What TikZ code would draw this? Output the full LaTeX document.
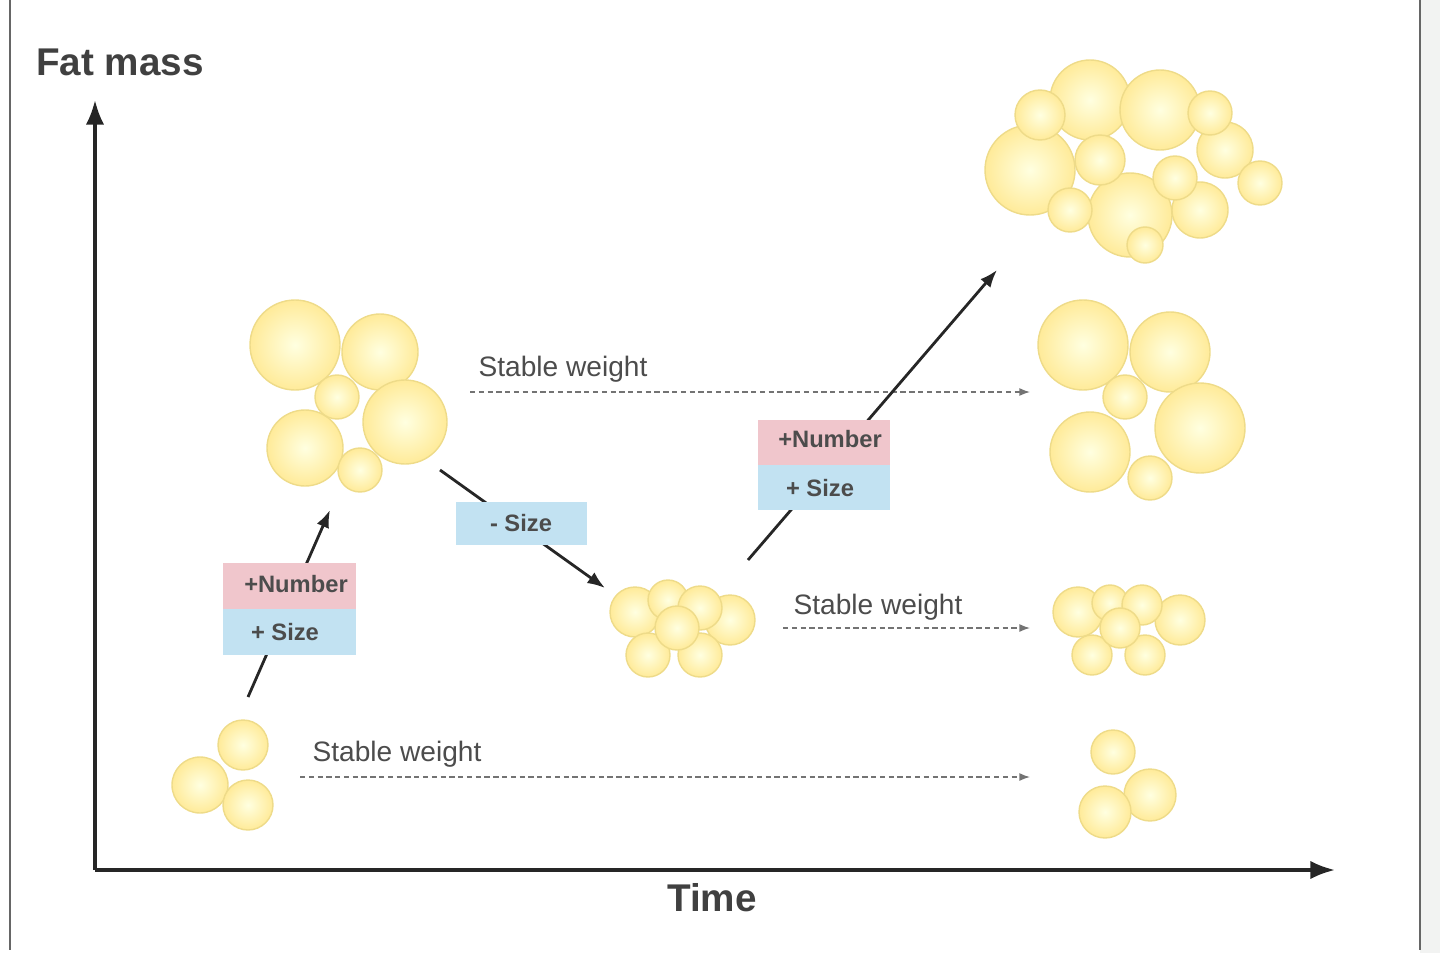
\documentclass[tikz,border=0pt]{standalone}
\usepackage{fontspec}
\setmainfont{Liberation Sans}
\usetikzlibrary{arrows.meta}
\begin{document}
\begin{tikzpicture}[x=0.02cm,y=-0.02cm,
  lbl/.style={font=\fontsize{16}{18}\selectfont, text=black!70},
  axl/.style={font=\bfseries\fontsize{22}{24}\selectfont, text=black!75},
  dsh/.style={densely dashed, draw=black!55, line width=0.8pt, -{Latex[length=6pt]}},
  sol/.style={draw=black!85, line width=1.6pt, -{Latex[length=10pt]}},
  tagtxt/.style={font=\bfseries\fontsize{13.5}{16}\selectfont, text=black!70}]
\useasboundingbox (0,0) rectangle (1440,953);
\fill[green!5!gray!10] (1420,0) rectangle (1440,953);
\draw[black!60, line width=1pt] (10,-2) -- (10,950) ;
\draw[black!60, line width=1pt] (1420,-2) -- (1420,950);
\newcommand{\cell}[3]{\shade[inner color=white!70!yellow!40, outer color=yellow!60!orange!40] (#1-0.2*#3,#2-0.2*#3) circle (0.01) (#1,#2) circle (#3);
  \draw[yellow!50!brown!55, line width=0.8pt] (#1,#2) circle (#3);}
% axes
\coordinate (o) at (95,870);
\coordinate (ytop) at (95,100);
\coordinate (xend) at (1335,870);
\draw[black!85, line width=2pt, -{Latex[length=14pt]}] (o) -- (ytop);
\draw[black!85, line width=2pt, -{Latex[length=14pt]}] (o) -- (xend);
\node[axl] (fm) at (120,62) {Fat mass};
\node[axl] (tm) at (712,898) {Time};
% cells
\cell{243}{745}{25}\cell{200}{785}{28}\cell{248}{805}{25}
\cell{1113}{752}{22}\cell{1150}{795}{26}\cell{1105}{812}{26}
\cell{295}{345}{45}\cell{380}{352}{38}\cell{305}{448}{38}\cell{405}{422}{42}\cell{337}{397}{22}\cell{360}{470}{22}
\cell{1083}{345}{45}\cell{1170}{352}{40}\cell{1090}{452}{40}\cell{1200}{428}{45}\cell{1125}{397}{22}\cell{1150}{478}{22}
\cell{635}{612}{25}\cell{668}{600}{20}\cell{730}{620}{25}\cell{700}{608}{22}\cell{648}{655}{22}\cell{700}{655}{22}\cell{677}{628}{22}
\cell{1078}{612}{25}\cell{1110}{603}{18}\cell{1180}{620}{25}\cell{1142}{605}{20}\cell{1092}{655}{20}\cell{1145}{655}{20}\cell{1120}{628}{20}
\cell{1030}{170}{45}\cell{1130}{215}{42}\cell{1090}{100}{40}\cell{1160}{110}{40}\cell{1225}{150}{28}\cell{1260}{183}{22}\cell{1200}{210}{28}\cell{1070}{210}{22}\cell{1040}{115}{25}\cell{1100}{160}{25}\cell{1175}{178}{22}\cell{1210}{113}{22}\cell{1145}{245}{18}
% dashed arrows
\coordinate (d1a) at (300,777); \coordinate (d1b) at (1030,777);
\coordinate (d2a) at (470,392); \coordinate (d2b) at (1030,392);
\coordinate (d3a) at (783,628); \coordinate (d3b) at (1030,628);
\draw[dsh] (d1a) -- (d1b); \draw[dsh] (d2a) -- (d2b); \draw[dsh] (d3a) -- (d3b);
\node[lbl] (s1) at (397,754) {Stable weight};
\node[lbl] (s2) at (563,369) {Stable weight};
\node[lbl] (s3) at (878,607) {Stable weight};
% solid arrows
\coordinate (a1a) at (248,697); \coordinate (a1b) at (330,510);
\coordinate (a2a) at (440,470); \coordinate (a2b) at (605,588);
\coordinate (a3a) at (748,560); \coordinate (a3b) at (997,270);
\draw[sol] (a1a) -- (a1b); \draw[sol] (a2a) -- (a2b); \draw[sol] (a3a) -- (a3b);
% tags
\definecolor{tagpink}{HTML}{F0C6CC}
\definecolor{tagblue}{HTML}{C2E2F2}
\fill[tagpink] (223,563) rectangle (356,609);
\fill[tagblue] (223,609) rectangle (356,655);
\node[tagtxt] (n1) at (296,584) {+Number};
\node[tagtxt] (z1) at (285,632) {+ Size};
\fill[tagpink] (758,420) rectangle (890,465);
\fill[tagblue] (758,465) rectangle (890,510);
\node[tagtxt] (n2) at (830,439) {+Number};
\node[tagtxt] (z2) at (820,488) {+ Size};
\fill[tagblue] (456,502) rectangle (587,545);
\node[tagtxt] (z3) at (521,523) {- Size};
\end{tikzpicture}
\end{document}
